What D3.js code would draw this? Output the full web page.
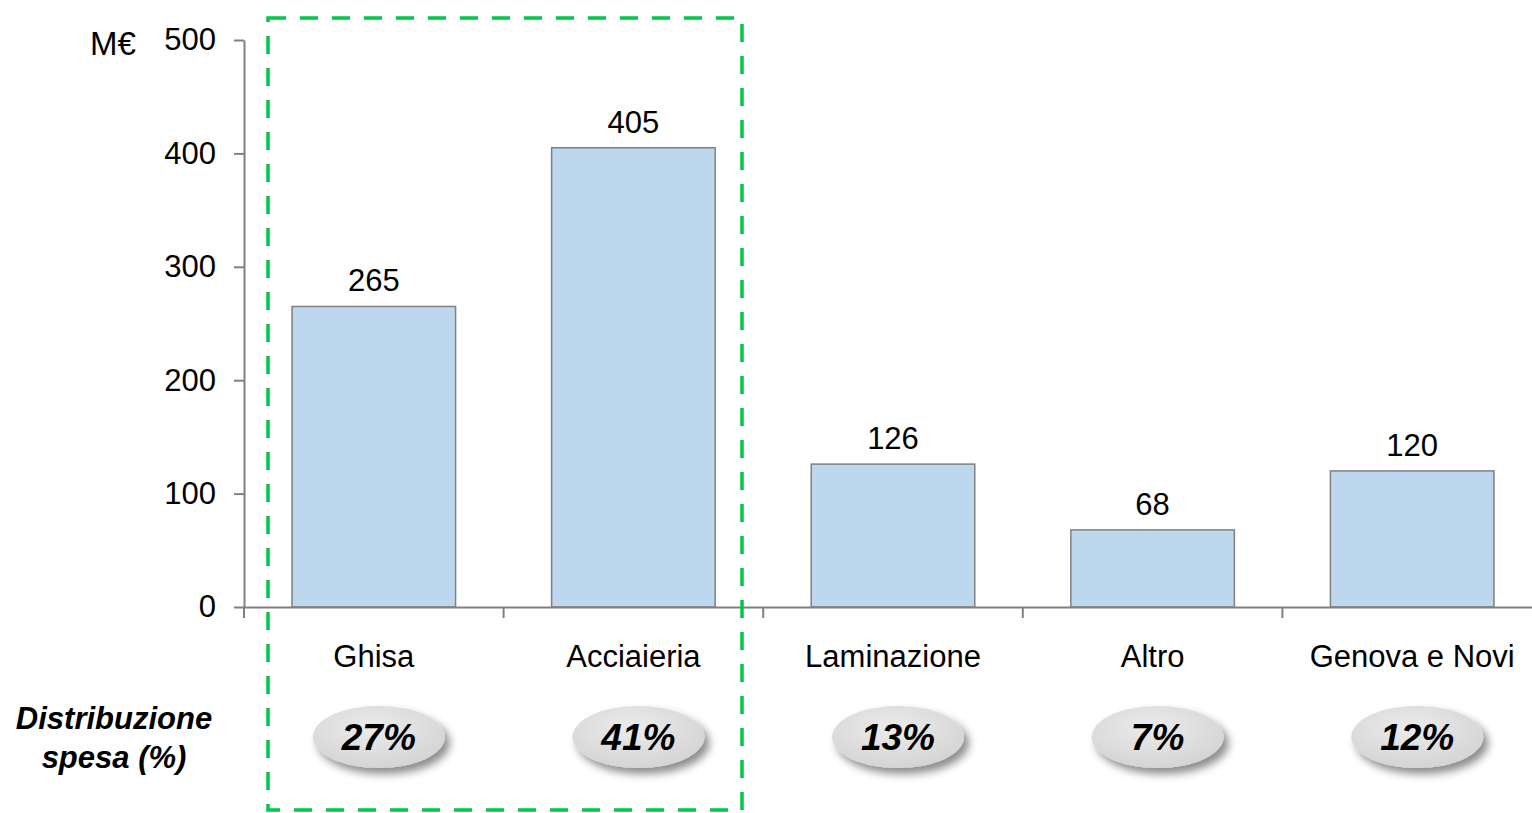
<!DOCTYPE html>
<html><head><meta charset="utf-8">
<script src="https://cdn.jsdelivr.net/npm/d3@7"></script>
<style>body{margin:0;background:#fff}svg{display:block;font-family:Arial,"Liberation Sans",sans-serif}</style>
</head><body><svg id="c" width="1532" height="813"></svg>
<script>
const categories = ["Ghisa","Acciaieria","Laminazione","Altro","Genova e Novi"];
const values = [265,405,126,68,120];
const shares = ["27%","41%","13%","7%","12%"];
const yTicks = [0,100,200,300,400,500];

const svg = d3.select("#c");
const x = d3.scaleBand().domain(categories).range([244,1542]).paddingInner(0.37).paddingOuter(0.185);
const y = d3.scaleLinear().domain([0,500]).range([607,40]);
const defs = svg.append("defs");
const g = defs.append("radialGradient").attr("id","eg").attr("cx","45%").attr("cy","35%").attr("r","65%");
g.append("stop").attr("offset","0%").attr("stop-color","#ececec");
g.append("stop").attr("offset","100%").attr("stop-color","#d4d4d4");
const f = defs.append("filter").attr("id","sh").attr("x","-30%").attr("y","-30%").attr("width","160%").attr("height","180%");
f.append("feDropShadow").attr("dx",5).attr("dy",6).attr("stdDeviation",4).attr("flood-color","#000").attr("flood-opacity",0.45);

// bars
svg.selectAll("rect.bar").data(values).join("rect").attr("class","bar")
  .attr("x",(d,i)=>x(categories[i])).attr("width",x.bandwidth())
  .attr("y",d=>y(d)).attr("height",d=>y(0)-y(d))
  .attr("fill","#BDD7EE").attr("stroke","#808080").attr("stroke-width",1.5);

// value labels
svg.selectAll("text.val").data(values).join("text").attr("class","val")
  .attr("x",(d,i)=>x(categories[i])+x.bandwidth()/2).attr("y",d=>y(d)-15)
  .attr("text-anchor","middle").attr("font-size",31).attr("fill","#000").text(d=>d);

// y axis
const ya = svg.append("g").attr("transform","translate(244,0)")
  .call(d3.axisLeft(y).tickValues(yTicks).tickSize(10).tickSizeOuter(0).tickPadding(18));
ya.select(".domain").attr("stroke","#808080").attr("stroke-width",2);
ya.selectAll(".tick line").attr("stroke","#808080").attr("stroke-width",2);
ya.selectAll(".tick text").attr("font-size",31).attr("fill","#000").attr("font-family","Arial,'Liberation Sans',sans-serif");

// x axis
const xa = svg.append("g").attr("transform","translate(0,607)")
  .call(d3.axisBottom(x).tickSize(0).tickSizeOuter(0).tickPadding(38));
xa.select(".domain").attr("stroke","#808080").attr("stroke-width",2);
xa.selectAll(".tick text").attr("font-size",31).attr("fill","#000").attr("font-family","Arial,'Liberation Sans',sans-serif");
const step = x.step();
const bounds = d3.range(categories.length+1).map(i=>244+i*step);
svg.selectAll("line.xt").data(bounds).join("line").attr("class","xt")
  .attr("x1",d=>d).attr("x2",d=>d).attr("y1",607).attr("y2",618)
  .attr("stroke","#808080").attr("stroke-width",2);

// unit
svg.append("text").attr("x",113).attr("y",55).attr("text-anchor","middle").attr("font-size",33).text("M€");

// share ellipses
const eg = svg.selectAll("g.sh").data(shares).join("g").attr("class","sh")
  .attr("transform",(d,i)=>`translate(${x(categories[i])+x.bandwidth()/2+5},737)`);
eg.append("ellipse").attr("rx",66).attr("ry",31).attr("fill","url(#eg)").attr("filter","url(#sh)");
eg.append("text").attr("y",13).attr("text-anchor","middle").attr("font-size",37)
  .attr("font-weight","bold").attr("font-style","italic").text(d=>d);

// row label
const rl = svg.append("text").attr("text-anchor","middle").attr("font-size",31)
  .attr("font-weight","bold").attr("font-style","italic");
rl.append("tspan").attr("x",114).attr("y",729).text("Distribuzione");
rl.append("tspan").attr("x",114).attr("y",768).text("spesa (%)");

// dashed highlight box
svg.append("rect").attr("x",268).attr("y",18).attr("width",474).attr("height",792)
  .attr("fill","none").attr("stroke","#00C84B").attr("stroke-width",3.5)
  .attr("stroke-dasharray","18,14");
</script></body></html>
